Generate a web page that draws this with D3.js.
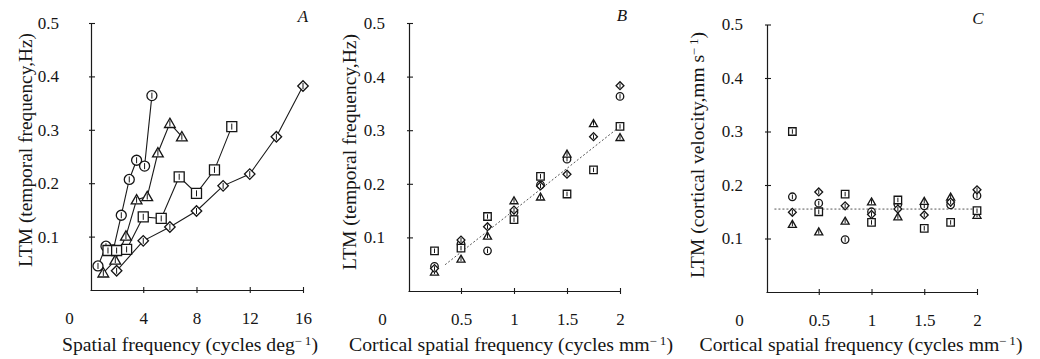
<!DOCTYPE html>
<html>
<head>
<meta charset="utf-8">
<script src="https://cdn.jsdelivr.net/npm/d3@7"></script>
<style>
  body { margin: 0; background: #fff; }
  svg text { font-family: "Liberation Serif", "Times New Roman", serif; fill: #151515; }
</style>
</head>
<body>
<svg id="chart"></svg>
<script>
// ---- panel A : LTM vs spatial frequency (cycles/deg), 4 series joined by lines
const aCircleX = [0.6, 1.2, 1.75, 2.35, 2.95, 3.5, 4.1, 4.65];
const aCircleY = [0.045, 0.082, 0.075, 0.140, 0.207, 0.243, 0.232, 0.364];
const aTriX = [1.0, 1.9, 2.7, 3.5, 4.3, 5.1, 6.0, 6.9];
const aTriY = [0.032, 0.056, 0.101, 0.169, 0.175, 0.257, 0.312, 0.287];
const aSqX = [1.35, 2.0, 2.75, 4.0, 5.35, 6.7, 8.0, 9.35, 10.65];
const aSqY = [0.074, 0.074, 0.076, 0.137, 0.134, 0.212, 0.181, 0.225, 0.306];
const aDiaX = [2, 4, 6, 8, 10, 12, 14, 16];
const aDiaY = [0.036, 0.092, 0.118, 0.148, 0.195, 0.217, 0.287, 0.382];

// ---- panel B : LTM vs cortical spatial frequency (cycles/mm)
const corticalX = [0.25, 0.5, 0.75, 1, 1.25, 1.5, 1.75, 2];
const bCircle = [0.046, 0.088, 0.075, 0.147, 0.198, 0.246, null, 0.363];
const bTri = [0.036, 0.060, 0.103, 0.169, 0.176, 0.256, 0.313, 0.287];
const bSq = [0.075, 0.080, 0.139, 0.133, 0.214, 0.181, 0.226, 0.307];
const bDia = [0.042, 0.095, 0.120, 0.151, 0.196, 0.218, 0.288, 0.383];
const bFitX = [0.35, 2.0];
const bFitY = [0.049, 0.307];

// ---- panel C : LTM as cortical velocity (mm/s)
const cCircle = [0.178, 0.166, 0.098, 0.150, 0.164, 0.161, 0.163, 0.180];
const cTri = [0.127, 0.113, 0.133, 0.169, 0.141, 0.170, 0.178, 0.144];
const cSq = [0.300, 0.150, 0.183, 0.130, 0.172, 0.119, 0.130, 0.152];
const cDia = [0.149, 0.187, 0.161, 0.145, 0.155, 0.144, 0.168, 0.191];
const cMeanX = [0.08, 2.05];
const cMeanY = [0.155, 0.155];

const yTicks = [0.1, 0.2, 0.3, 0.4, 0.5];
const aXTicks = [0, 4, 8, 12, 16];
const bXTicks = [0, 0.5, 1, 1.5, 2];

const serif = '"Liberation Serif", "Times New Roman", serif';

const svg = d3.select('#chart')
  .attr('width', 1040)
  .attr('height', 359);

const zip = (xs, ys) => xs.map((x, i) => ({ x, y: ys[i] }));

function markerPath(type, s) {
  // s = approx width of the marker in px
  if (type === 'circle') return d3.symbol(d3.symbolCircle, Math.PI * (s / 2) * (s / 2))();
  if (type === 'square') return d3.symbol(d3.symbolSquare, s * s)();
  if (type === 'triangle') return d3.symbol(d3.symbolTriangle, s * s * 0.5)();
  return d3.symbol(d3.symbolSquare, s * s * 0.55)(); // rotated later -> diamond
}

// text with a superscript "-1" before the last chunk
function titleText(sel, parts) {
  sel.append('tspan').text(parts[0]);
  sel.append('tspan').attr('dy', -6).style('font-size', '12px').text('\u2212\u20091');
  sel.append('tspan').attr('dy', 6).text(parts[1]);
}

function drawPanel(p) {
  const g = svg.append('g');
  const x = p.x, y = p.y;

  // y axis
  const yAxis = g.append('g')
    .attr('transform', `translate(${p.axisX},0)`)
    .call(d3.axisLeft(y).tickValues(yTicks).tickSizeOuter(0).tickPadding(p.yPad)
      .tickFormat(d3.format('.1f')));
  yAxis.selectAll('.tick line').attr('x1', -2).attr('x2', 4);

  // x axis
  const xAxis = g.append('g')
    .attr('transform', `translate(0,${p.axisY})`)
    .call(d3.axisBottom(x).tickValues(p.xTicks).tickSizeOuter(0).tickPadding(16)
      .tickFormat(d => d === 0 ? '0' : String(d)));
  xAxis.selectAll('.tick line').attr('y1', -3).attr('y2', 3);
  xAxis.selectAll('text').attr('dx', d => d === 0 ? p.zeroShift : 0);
  xAxis.selectAll('.tick').filter(d => d === 0).select('line').remove();

  g.selectAll('g').attr('font-family', serif);
  g.selectAll('.tick text')
    .style('font-family', serif)
    .style('font-size', '17px');
  g.selectAll('.domain').attr('stroke', '#1a1a1a').attr('stroke-width', 1.2);
  g.selectAll('.tick line').attr('stroke', '#1a1a1a').attr('stroke-width', 1.1);

  // reference line (dotted)
  if (p.ref) {
    g.append('path')
      .datum(zip(p.ref[0], p.ref[1]))
      .attr('fill', 'none')
      .attr('stroke', '#555')
      .attr('stroke-width', 1)
      .attr('stroke-dasharray', '2,2')
      .attr('d', d3.line().x(d => x(d.x)).y(d => y(d.y)));
  }

  p.series.forEach(s => {
    const pts = zip(s.xs, s.ys).filter(d => d.y != null);
    if (p.joined) {
      g.append('path')
        .datum(pts)
        .attr('fill', 'none')
        .attr('stroke', '#1a1a1a')
        .attr('stroke-width', 1.1)
        .attr('d', d3.line().x(d => x(d.x)).y(d => y(d.y)));
    }
    const m = g.selectAll(null)
      .data(pts)
      .enter()
      .append('g')
      .attr('transform', d => `translate(${x(d.x)},${y(d.y)})`);
    m.append('path')
      .attr('d', markerPath(s.type, p.size))
      .attr('transform', s.type === 'diamond' ? 'rotate(45)' : s.type === 'triangle' ? 'translate(0,1)' : null)
      .attr('fill', '#fff')
      .attr('stroke', '#151515')
      .attr('stroke-width', 1.3);
    // small error bar inside the marker
    m.append('line')
      .attr('y1', -p.size * 0.3).attr('y2', p.size * 0.3)
      .attr('stroke', '#151515')
      .attr('stroke-width', 1);
  });

  // labels
  const yt = g.append('text')
    .attr('transform', `translate(${p.yLabel[0]},${p.yLabel[1]}) rotate(-90)`)
    .attr('text-anchor', 'middle')
    .attr('textLength', p.yLabel[2])
    .attr('lengthAdjust', 'spacingAndGlyphs')
    .style('font-size', '18px');
  if (Array.isArray(p.yTitle)) titleText(yt, p.yTitle);
  else yt.text(p.yTitle);

  const xt = g.append('text')
    .attr('x', p.xLabel[0]).attr('y', p.xLabel[1])
    .attr('text-anchor', 'middle')
    .attr('textLength', p.xLabel[2])
    .attr('lengthAdjust', 'spacingAndGlyphs')
    .style('font-size', '18px');
  titleText(xt, p.xTitle);

  g.append('text')
    .attr('x', p.letter[0]).attr('y', p.letter[1])
    .attr('text-anchor', 'middle')
    .style('font-size', '17px')
    .style('font-style', 'italic')
    .text(p.letterText);
}

// A
drawPanel({
  x: d3.scaleLinear().domain([0, 16]).range([90, 303]),
  y: d3.scaleLinear().domain([0, 0.5]).range([290, 23]),
  axisX: 91, axisY: 290, yPad: 26, zeroShift: -21,
  xTicks: aXTicks, joined: true, size: 10,
  series: [
    { type: 'circle', xs: aCircleX, ys: aCircleY },
    { type: 'triangle', xs: aTriX, ys: aTriY },
    { type: 'square', xs: aSqX, ys: aSqY },
    { type: 'diamond', xs: aDiaX, ys: aDiaY }
  ],
  yTitle: 'LTM (temporal frequency,Hz)', yLabel: [32, 150, 234],
  xTitle: ['Spatial frequency (cycles deg', ')'], xLabel: [190, 351, 256],
  letter: [303, 22], letterText: 'A'
});

// B
drawPanel({
  x: d3.scaleLinear().domain([0, 2]).range([408, 620]),
  y: d3.scaleLinear().domain([0, 0.5]).range([291, 23]),
  axisX: 409, axisY: 291, yPad: 18, zeroShift: -26,
  xTicks: bXTicks, joined: false, size: 7.5,
  ref: [bFitX, bFitY],
  series: [
    { type: 'circle', xs: corticalX, ys: bCircle },
    { type: 'triangle', xs: corticalX, ys: bTri },
    { type: 'square', xs: corticalX, ys: bSq },
    { type: 'diamond', xs: corticalX, ys: bDia }
  ],
  yTitle: 'LTM (temporal frequency,Hz)', yLabel: [356, 152, 236],
  xTitle: ['Cortical spatial frequency (cycles mm', ')'], xLabel: [511, 351, 324],
  letter: [622, 21], letterText: 'B'
});

// C
drawPanel({
  x: d3.scaleLinear().domain([0, 2]).range([766, 977]),
  y: d3.scaleLinear().domain([0, 0.5]).range([292, 24.5]),
  axisX: 767, axisY: 292, yPad: 18, zeroShift: -27,
  xTicks: bXTicks, joined: false, size: 7.5,
  ref: [cMeanX, cMeanY],
  series: [
    { type: 'circle', xs: corticalX, ys: cCircle },
    { type: 'triangle', xs: corticalX, ys: cTri },
    { type: 'square', xs: corticalX, ys: cSq },
    { type: 'diamond', xs: corticalX, ys: cDia }
  ],
  yTitle: ['LTM (cortical velocity,mm s', ')'], yLabel: [704, 155, 246],
  xTitle: ['Cortical spatial frequency (cycles mm', ')'], xLabel: [861, 351, 323],
  letter: [978, 24], letterText: 'C'
});
</script>
</body>
</html>
